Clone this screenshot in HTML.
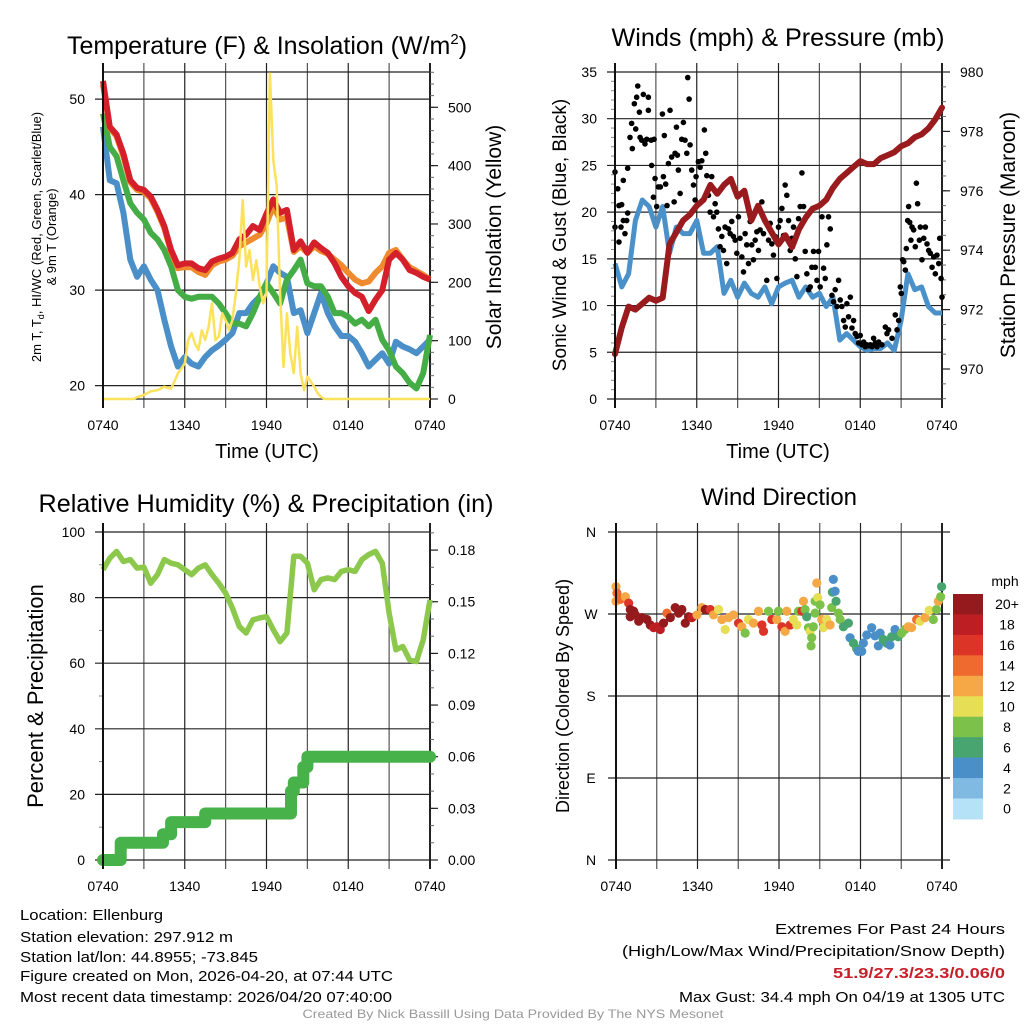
<!DOCTYPE html>
<html><head><meta charset="utf-8"><title>Mesonet Station Chart</title>
<style>
html,body{margin:0;padding:0;background:#fff;}
svg{display:block;font-family:"Liberation Sans",sans-serif;}
</style></head>
<body>
<svg id="chart" width="1024" height="1024" viewBox="0 0 1024 1024" xmlns="http://www.w3.org/2000/svg">
<rect width="1024" height="1024" fill="#fff"/>
<g id="layer"></g>
<!-- titles -->
<text x="267" y="54" font-size="25" text-anchor="middle">Temperature (F) &amp; Insolation (W/m<tspan dy="-10" font-size="15">2</tspan><tspan dy="10">)</tspan></text>
<text x="778" y="46" font-size="25" text-anchor="middle" textLength="333" lengthAdjust="spacingAndGlyphs">Winds (mph) &amp; Pressure (mb)</text>
<text x="266" y="512" font-size="25" text-anchor="middle" textLength="455" lengthAdjust="spacingAndGlyphs">Relative Humidity (%) &amp; Precipitation (in)</text>
<text x="779" y="505" font-size="24" text-anchor="middle">Wind Direction</text>
<!-- axis titles -->
<text transform="translate(41,237) rotate(-90)" font-size="13" text-anchor="middle">2m T, T<tspan font-size="9" dy="3">d</tspan><tspan dy="-3">, HI/WC (Red, Green, Scarlet/Blue)</tspan></text>
<text transform="translate(56,237) rotate(-90)" font-size="13" text-anchor="middle">&amp; 9m T (Orange)</text>
<text transform="translate(501,237) rotate(-90)" font-size="21" text-anchor="middle">Solar Insolation (Yellow)</text>
<text x="267" y="458" font-size="20" text-anchor="middle">Time (UTC)</text>
<text transform="translate(566,235) rotate(-90)" font-size="19" text-anchor="middle">Sonic Wind &amp; Gust (Blue, Black)</text>
<text transform="translate(1015,235) rotate(-90)" font-size="21" text-anchor="middle">Station Pressure (Maroon)</text>
<text x="778" y="458" font-size="20" text-anchor="middle">Time (UTC)</text>
<text transform="translate(43,696) rotate(-90)" font-size="22" text-anchor="middle">Percent &amp; Precipitation</text>
<text transform="translate(569,696) rotate(-90)" font-size="18" text-anchor="middle">Direction (Colored By Speed)</text>
<!-- footer -->
<g font-size="15">
<text x="20" y="920" textLength="143" lengthAdjust="spacingAndGlyphs">Location: Ellenburg</text>
<text x="20" y="942" textLength="213" lengthAdjust="spacingAndGlyphs">Station elevation: 297.912 m</text>
<text x="20" y="962" textLength="238" lengthAdjust="spacingAndGlyphs">Station lat/lon: 44.8955; -73.845</text>
<text x="20" y="981" textLength="373" lengthAdjust="spacingAndGlyphs">Figure created on Mon, 2026-04-20, at 07:44 UTC</text>
<text x="20" y="1002" textLength="372" lengthAdjust="spacingAndGlyphs">Most recent data timestamp: 2026/04/20 07:40:00</text>
</g>
<g font-size="15" text-anchor="end">
<text x="1005" y="934" textLength="230" lengthAdjust="spacingAndGlyphs">Extremes For Past 24 Hours</text>
<text x="1005" y="956" textLength="383" lengthAdjust="spacingAndGlyphs">(High/Low/Max Wind/Precipitation/Snow Depth)</text>
<text x="1005" y="978" textLength="172" lengthAdjust="spacingAndGlyphs" fill="#c8202a" font-weight="bold">51.9/27.3/23.3/0.06/0</text>
<text x="1005" y="1002" textLength="326" lengthAdjust="spacingAndGlyphs">Max Gust: 34.4 mph On 04/19 at 1305 UTC</text>
</g>
<text x="513" y="1018" font-size="12" fill="#999" text-anchor="middle" textLength="421" lengthAdjust="spacingAndGlyphs">Created By Nick Bassill Using Data Provided By The NYS Mesonet</text>
</svg>
<script>
// ---------- data ----------
const halfHours = [];
for (let i = 0; i <= 48; i++) halfHours.push(i * 0.5);
const quarterHours = [];
for (let i = 0; i <= 96; i++) quarterHours.push(i * 0.25);
const timeTickHours = [0, 6, 12, 18, 24];
const timeTickLabels = ['0740', '1340', '1940', '0140', '0740'];

const tempRed = [51.9,47.1,46.3,44.3,41.5,40.7,40.5,39.8,38.4,36.7,34.2,32.6,32.8,32.8,32.3,32.1,33,33.3,33.5,33.9,35.3,35.8,36.7,36.3,38.0,39.5,38.1,38.4,34.2,35.1,33.9,35,34.4,33.9,32.8,31.4,30.4,29.7,29.3,27.8,29,30,33.2,33.9,33.2,32.1,31.8,31.4,31.1];
const tempOrange = [51.5,47.0,46.1,44.0,41.3,40.5,40.3,39.6,38.2,36.5,34.0,32.3,32.4,32.4,31.9,31.6,32.6,33.0,33.2,33.6,34.6,35.0,35.4,35.8,37.0,38.8,37.4,37.6,34.0,34.6,33.9,34.6,34.1,33.8,33.2,32.6,31.8,31.1,30.7,30.9,31.8,32.5,33.9,34.2,33.2,32.4,32.0,31.6,31.1];
const tempGreen = [48.5,45,44,41.5,39.1,38.1,37.4,36,35.3,34.2,32.5,30,29.3,29.1,29.3,29.3,29.3,28.6,27.6,26.5,26.5,26.2,27.6,29.3,30.7,29.7,28.6,31.1,32.1,33.2,30.7,30.4,30.4,29.3,27.6,27.6,27.2,26.5,26.9,26.2,26.9,24.8,23.7,22,21.3,20.3,19.7,21.3,25.3];
const tempBlue = [47.1,41.5,41.2,38.1,33.2,31.4,32.5,31.1,30,26.9,24.1,22,23,22.3,22,23,23.7,24.2,24.8,25.5,27.6,27.6,28.6,29.3,30.7,32.5,31.8,31.4,27.6,27.9,25.5,27.6,29.7,27.6,26.2,25.2,25.2,24.6,23.4,22,22.7,23.4,22.3,24.6,24.1,23.8,23.4,24.1,24.8];
const solar = [0,0,0,0,0,0,0,0,0,0,3,5,7,10,13,14,15,18,21,19,18,30,44,52,61,101,113,95,84,118,101,124,164,101,107,147,135,118,135,181,238,341,227,255,204,238,193,164,181,558,410,364,181,55,147,78,44,124,44,15,38,30,21,10,4,0,0,0,0,0,0,0,0,0,0,0,0,0,0,0,0,0,0,0,0,0,0,0,0,0,0,0,0,0,0,0,0];
const tempTicks = [20, 30, 40, 50];
const solarTicks = [0, 100, 200, 300, 400, 500];

const windSpeed = [14.5,12,13.4,19.1,21.3,20.6,18.4,20.6,15.6,18.4,17.7,17.7,19.1,15.6,15.6,16.3,11.3,12.7,10.9,12.4,11.3,10.9,12,10.2,12,12.4,12.7,10.9,12,10.9,11.3,9.9,10.9,6.3,7,6.3,5.6,5.2,5.4,5.4,6,5.2,8.4,13.4,11.7,12,9.9,9.2,9.2];
const pressure = [970.5,971.4,972.1,972,972.2,972.4,972.3,972.4,974.2,974.6,975,975.2,975.5,975.7,976.2,975.9,976.2,976.4,975.8,976,975,975.5,975,974.6,974.2,974.5,974.1,974.7,975.1,975.4,975.5,975.7,976.1,976.4,976.6,976.8,977,976.9,976.9,977.1,977.2,977.3,977.5,977.6,977.8,977.9,978.1,978.4,978.8];
const gustHours = [0,0,0.2,0.29,0.44,0.29,0.49,0.61,0.73,0.86,0.93,0.61,0.93,1.1,1.22,1.27,1.42,1.52,1.67,1.59,1.79,1.84,1.96,2.08,2.2,2.33,2.45,2.45,2.65,2.69,2.82,2.87,2.94,3.06,3.18,3.33,3.48,3.55,3.62,3.72,3.82,3.92,4.04,4.16,4.34,4.41,4.51,4.58,4.65,4.78,4.9,5.02,5.14,5.27,5.34,5.44,5.51,5.63,5.76,5.88,5.95,6.12,6.25,6.37,6.56,6.66,6.74,6.86,6.98,7.1,7.23,7.35,7.47,7.59,7.71,7.84,7.96,8.08,8.2,8.33,8.45,8.57,8.69,8.82,8.94,9.06,9.18,9.31,9.43,9.55,9.67,9.8,9.92,10.04,10.16,10.29,10.41,10.53,10.65,10.78,10.9,11.14,11.27,11.39,11.51,11.63,11.76,11.88,12,12.12,12.25,12.37,12.49,12.61,12.74,12.86,12.98,13.1,13.23,13.35,13.47,13.59,13.72,13.84,13.96,14.08,14.21,14.33,14.45,14.57,14.7,14.82,14.94,15.06,15.19,15.31,15.43,15.55,15.67,15.8,15.92,16.04,16.16,16.29,16.41,16.53,16.65,16.78,16.9,17.02,17.14,17.27,17.39,17.51,17.63,17.76,17.88,18,18.12,18.25,18.37,18.49,18.61,18.74,18.86,18.98,19.1,19.23,19.35,19.59,19.84,19.96,20.08,20.33,20.57,20.7,20.82,20.94,21.01,21.11,21.19,21.31,21.38,21.48,21.55,21.63,21.72,21.8,21.92,22.04,22.12,22.21,22.34,22.41,22.53,22.66,22.78,22.9,23.02,23.14,23.27,23.39,23.51,23.63,23.76,23.83,23.93,24];
const gustSpeed = [24.3,18.4,22.5,20.7,18.4,16.8,20.8,19.1,17.7,19.1,19.9,23.4,24.7,28,29.5,26.8,31.6,28.9,33.5,32.3,30.7,28,27.7,32.6,27.3,27.8,32.3,30.9,27.7,25,21.6,27.8,23.6,20.6,22.7,22.7,30.5,23.8,28.2,23,20.7,25.2,30.9,25.9,21.1,26.3,29.1,26.1,24.5,22,27.8,29.6,27.7,26.3,34.4,32.1,27.2,24.5,22.9,21.3,23.8,25.4,24.8,25.5,28.8,26.3,23.9,21.8,20,23.8,19.5,20.9,20,18.2,16.3,17.4,15.9,18.4,14.5,18.2,17.7,19,17.4,17,15.6,19.5,17.2,15.2,13.6,17.7,16.5,14.5,19,16.5,14.9,17,17.9,15.9,18.1,21.1,17.7,12.7,17,18.8,16.6,15.4,17.4,12.9,18.4,19.1,20.4,17.5,22.9,21.8,19.1,15.9,17.2,18.4,15,13.1,19.3,20.6,24.2,20.6,15.8,13.4,11.7,12,14.1,15.8,14.1,12.7,15.8,12,19.5,14,12.9,16.5,19.5,18.2,11.1,10.4,11.7,9.9,12.7,10.6,9.9,8.4,7.7,10.2,8.8,10.9,7.6,8.4,7,6.7,6,6.8,5.8,6.1,5.6,5.8,5.7,5.8,5.6,6.5,6,5.6,6.1,5.8,7.7,7,7.4,6.5,9,7.4,8.4,12,11.3,14.9,14.7,13.8,16.1,19.1,20.6,18.9,17,18.4,18.1,16.3,23.1,20.9,17,18.4,14.9,17.2,18.4,16.6,15.9,15.6,14.1,15.2,13.4,15.4,14.5,17.2,12.9,10.9];
const windTicks = [0, 5, 10, 15, 20, 25, 30, 35];
const pressureTicks = [970, 972, 974, 976, 978, 980];

const humidity = [88.5,92,94.1,91,91.6,89,89.3,84.4,87,91.6,90.5,90,88.5,87,89,90,87,84.4,81.4,76.8,71.2,69.2,73.2,73.8,74.2,70.2,66.6,69.2,92.6,92.6,90.5,82.4,85.5,86,85.5,88,88.5,88,91.6,93.1,94.1,90.5,75.3,64.1,65.1,61,60.5,67.1,79.3];
const precipHours = [0, 1.3, 4.4, 5.0, 7.5, 13.8, 14.0, 14.7, 15.0, 24];
const precipTotal = [0, 0.01, 0.015, 0.022, 0.027, 0.04, 0.045, 0.054, 0.06, 0.06];
const humidityTicks = [0, 20, 40, 60, 80, 100];
const precipTicks = [0, 0.03, 0.06, 0.09, 0.12, 0.15, 0.18];
const precipTickLabels = ['0.00','0.03','0.06','0.09','0.12','0.15','0.18'];

const dirHours = [0,0,0.07,0.32,0.69,0.93,1.05,1.05,1.3,1.42,1.67,1.91,2.28,2.52,2.77,3.01,3.26,3.5,3.75,4.0,4.36,4.61,4.85,5.1,5.34,5.59,5.96,6.32,6.57,6.94,7.18,7.55,7.79,8.04,8.28,8.65,9.02,9.26,9.51,9.75,10.12,10.49,10.74,10.86,11.23,11.47,11.84,11.96,12.21,12.45,12.57,12.82,13.06,13.31,13.43,13.68,13.8,13.92,14.04,14.17,14.29,14.41,14.36,14.53,14.66,14.66,14.78,14.85,15.02,15.15,15.27,15.51,15.76,15.88,16.0,15.93,16.13,16.2,16.37,16.5,16.74,17.11,17.23,17.48,17.72,17.84,18.09,18.21,18.46,18.82,19.07,19.31,19.44,19.68,19.93,20.17,20.29,20.54,20.78,21.03,21.27,21.52,21.76,22.13,22.38,22.75,23.06,23.36,23.6,23.73,23.9,23.97];
const dirDegrees = [284,300,293,286,289,282,275,267,273,269,262,266,264,258,255,256,253,260,271,266,277,271,275,260,267,266,269,277,275,275,269,275,264,253,266,269,260,256,249,264,260,273,258,251,273,264,264,273,256,251,273,258,264,258,273,273,284,275,267,255,251,244,235,256,271,284,304,288,280,264,255,264,258,277,308,294,295,284,271,264,256,260,244,238,232,229,229,238,247,255,246,235,249,242,238,236,245,253,245,249,253,256,255,264,262,266,274,264,275,284,289,300];
const dirSpeed = [13,13,15,15,13,17,21,21,21,21,21,21,21,21,19,19,19,21,15,21,21,21,21,21,21,19,13,13,21,17,13,11,13,11,13,13,17,13,9,11,13,13,17,17,9,17,13,9,17,13,13,17,11,11,9,17,13,9,7,9,11,9,9,9,9,9,13,11,9,13,11,11,13,9,5,7,5,7,9,9,7,7,5,7,7,5,5,5,5,5,5,5,5,7,7,5,7,5,7,9,9,13,13,15,11,13,11,9,9,13,9,7];
const dirTicks = [0, 90, 180, 270, 360];
const dirTickLabels = ['N', 'E', 'S', 'W', 'N'];
const speedBins = [0, 2, 4, 6, 8, 10, 12, 14, 16, 18, 20];
const speedBinLabels = ['0','2','4','6','8','10','12','14','16','18','20+'];
const speedColors = ['#b6e2f8','#80bae3','#4a8fc8','#48a570','#7cc24a','#e6df55','#f5a845','#ee6a2e','#dc3528','#bd1e24','#951a1d'];

// ---------- helpers ----------
const NS = 'http://www.w3.org/2000/svg';
const layer = document.getElementById('layer');
function el(tag, attrs, parent) {
  const e = document.createElementNS(NS, tag);
  for (const k in attrs) e.setAttribute(k, attrs[k]);
  (parent || layer).appendChild(e);
  return e;
}
function txt(x, y, s, size, anchor, parent) {
  const t = el('text', {x: x, y: y, 'font-size': size, 'text-anchor': anchor}, parent);
  t.textContent = s;
  return t;
}
function colorForSpeed(v) {
  let i = Math.floor(v / 2);
  if (i > 10) i = 10;
  if (i < 0) i = 0;
  return speedColors[i];
}

function panelFrame(name, L, R, T, B) {
  const g = el('g', {});
  
  
  const xs = h => L + h * (R - L) / 24;
  for (let i = 0; i <= 8; i++) {
    const x = xs(i * 3);
    const gl = el('line', {x1: x, x2: x, y1: T - 9, y2: B + 9, stroke: i % 2 ? '#555' : '#222', 'stroke-width': i === 0 || i === 8 ? 2 : 1.2}, g);
    
    
  }
  timeTickHours.forEach((h, i) => {
    const t = txt(xs(h), B + 31, timeTickLabels[i], 14, 'middle', g);
    
    
  });
  return {g: g, xs: xs};
}
function hLine(g, y, x1, x2, w) {
  const l = el('line', {x1: x1, x2: x2, y1: y, y2: y, stroke: '#222', 'stroke-width': w || 1.2}, g);
  
  
}
function rightAxis(g, R, T, B, yF, lo, hi, major, minorStep, labels) {
  el('line', {x1: R, x2: R, y1: T - 9, y2: B + 9, stroke: '#222', 'stroke-width': 2}, g);
  for (let v = lo; v <= hi + 1e-9; v += minorStep) {
    const y = yF(v);
    if (y < T - 1 || y > B + 1) continue;
    el('line', {x1: R, x2: R + 4, y1: y, y2: y, stroke: '#666', 'stroke-width': 1}, g);
  }
  major.forEach((v, i) => {
    const y = yF(v);
    el('line', {x1: R, x2: R + 8, y1: y, y2: y, stroke: '#222', 'stroke-width': 1.2}, g);
    const t = txt(R + 18, y + 5, labels[i], 14, 'start', g);
    
    
  });
}
function pathFrom(xsArr, ysArr, xF, yF) {
  return xsArr.map((h, i) => (i ? 'L' : 'M') + xF(h).toFixed(1) + ',' + yF(ysArr[i]).toFixed(1)).join('');
}

// ---------- Panel 1: temperature ----------
(function () {
  const L = 103, R = 430, T = 72, B = 399;
  const p = panelFrame('temperature-panel', L, R, T, B);
  const g = p.g, xs = p.xs;
  const yT = v => B - (v - 18.6) * 9.55;
  const yS = v => B - v * 0.5834;
  hLine(g, T, L, R); hLine(g, B, L, R);
  tempTicks.forEach(v => {
    hLine(g, yT(v), L - 8, R);
    const t = txt(L - 18, yT(v) + 5, String(v), 14, 'end', g);
    
    
  });
  rightAxis(g, R, T, B, yS, 0, 560, solarTicks, 20, solarTicks.map(String));
  const series = [[tempBlue, '#4a8fc8', 'dewpoint-line'], [tempGreen, '#45ad45', 'heat-index-line'], [tempOrange, '#f08a2e', 'temp-9m-line'], [tempRed, '#d4202a', 'temp-2m-line']];
  series.forEach(s => {
    const path = el('path', {d: pathFrom(halfHours, s[0], xs, yT), fill: 'none', stroke: s[1], 'stroke-width': 6, 'stroke-linejoin': 'round'}, g);
    
    
  });
  const sp = el('path', {d: pathFrom(quarterHours, solar, xs, yS), fill: 'none', stroke: '#fce25c', 'stroke-width': 2.5, 'stroke-linejoin': 'round'}, g);
  
  
  el('line', {x1: L, x2: L, y1: T - 9, y2: B + 9, stroke: '#111', 'stroke-width': 2}, g);
})();

// ---------- Panel 2: wind ----------
(function () {
  const L = 615, R = 942, T = 72, B = 399;
  const p = panelFrame('wind-panel', L, R, T, B);
  const g = p.g, xs = p.xs;
  const yW = v => B - v * 9.343;
  const yP = v => 369 - (v - 970) * 29.7;
  windTicks.forEach(v => {
    hLine(g, yW(v), L - 8, R);
    const t = txt(L - 18, yW(v) + 5, String(v), 14, 'end', g);
    
    
  });
  for (let v = 1; v < 35; v++) if (v % 5) el('line', {x1: L - 4, x2: L, y1: yW(v), y2: yW(v), stroke: '#888', 'stroke-width': 1}, g);
  rightAxis(g, R, T, B, yP, 969, 980, pressureTicks, 0.5, pressureTicks.map(String));
  const wl = el('path', {d: pathFrom(halfHours, windSpeed, xs, yW), fill: 'none', stroke: '#4a90c9', 'stroke-width': 5, 'stroke-linejoin': 'round'}, g);
  
  
  const dg = el('g', {}, g);
  
  
  gustHours.forEach((h, i) => {
    const c = el('circle', {cx: xs(h), cy: yW(gustSpeed[i]), r: 2.8, fill: '#000'}, dg);
    
    
  });
  const pl = el('path', {d: pathFrom(halfHours, pressure, xs, yP), fill: 'none', stroke: '#991b1e', 'stroke-width': 6, 'stroke-linejoin': 'round', 'stroke-linecap': 'round'}, g);
  
  
  el('line', {x1: L, x2: L, y1: T - 9, y2: B + 9, stroke: '#111', 'stroke-width': 2}, g);
})();

// ---------- Panel 3: humidity ----------
(function () {
  const L = 103, R = 430, T = 532, B = 860;
  const p = panelFrame('humidity-panel', L, R, T, B);
  const g = p.g, xs = p.xs;
  const yR = v => B - v * 3.28;
  const yPr = v => B - v * 1721.7;
  humidityTicks.forEach(v => {
    hLine(g, yR(v), L - 8, R);
    const t = txt(L - 18, yR(v) + 5, String(v), 14, 'end', g);
    
    
  });
  for (let v = 10; v < 100; v += 20) el('line', {x1: L - 4, x2: L, y1: yR(v), y2: yR(v), stroke: '#888', 'stroke-width': 1}, g);
  rightAxis(g, R, T, B, yPr, 0, 0.19, precipTicks, 0.01, precipTickLabels);
  const hl = el('path', {d: pathFrom(halfHours, humidity, xs, yR), fill: 'none', stroke: '#8cc84c', 'stroke-width': 5.5, 'stroke-linejoin': 'round'}, g);
  
  
  let d = '';
  for (let i = 0; i < precipHours.length - 1; i++) {
    const y = yPr(precipTotal[i]);
    d += (i ? 'L' : 'M') + xs(precipHours[i]).toFixed(1) + ',' + y.toFixed(1) + 'L' + xs(precipHours[i + 1]).toFixed(1) + ',' + y.toFixed(1);
  }
  const pr = el('path', {d: d, fill: 'none', stroke: '#46b249', 'stroke-width': 12, 'stroke-linejoin': 'round', 'stroke-linecap': 'round'}, g);
  
  
  el('line', {x1: L, x2: L, y1: T - 9, y2: B + 9, stroke: '#111', 'stroke-width': 2}, g);
})();

// ---------- Panel 4: wind direction ----------
(function () {
  const L = 616, R = 942, T = 532, B = 860;
  const p = panelFrame('direction-panel', L, R, T, B);
  const g = p.g, xs = p.xs;
  const yD = v => B - v * 0.9111;
  dirTicks.forEach((v, i) => {
    hLine(g, yD(v), L - 8, R + 8);
    const t = txt(L - 25, yD(v) + 5, dirTickLabels[i], 14, 'middle', g);
    
    
  });
  const dg = el('g', {}, g);
  
  
  dirHours.forEach((h, i) => {
    const c = el('circle', {cx: xs(h), cy: yD(dirDegrees[i]), r: 4.6, fill: colorForSpeed(dirSpeed[i])}, dg);
    
    
  });
  el('line', {x1: L, x2: L, y1: T - 9, y2: B + 9, stroke: '#111', 'stroke-width': 2}, g);
  // colorbar
  const cb = el('g', {});
  
  
  const top = 594, h = 20.45;
  const mph = txt(1005, 586, 'mph', 14, 'middle', cb);
  
  
  for (let k = 0; k < speedBins.length; k++) {
    const idx = speedBins.length - 1 - k;
    const r = el('rect', {x: 953, y: top + k * h, width: 30, height: h + 0.5, fill: speedColors[idx]}, cb);
    
    
    const t = txt(1007, top + k * h + h / 2 + 5, speedBinLabels[idx], 14, 'middle', cb);
    
    
  }
})();
</script>
</body></html>
